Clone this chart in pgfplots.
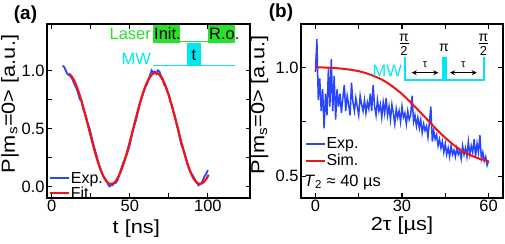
\documentclass[border=0pt]{standalone}
\usepackage{fontspec}
\setmainfont{Liberation Sans}
\newfontfamily\labfont[FakeStretch=1.15]{Liberation Sans}
\usepackage{pgfplots}
\pgfplotsset{compat=1.18}
\usetikzlibrary{arrows.meta}
\definecolor{expblue}{RGB}{40,70,255}
\definecolor{simred}{RGB}{240,20,20}
\definecolor{lasergreen}{RGB}{40,225,40}
\definecolor{mwcyan}{RGB}{0,232,238}
\pgfplotsset{
  panel/.style={
    scale only axis, height=174bp, anchor=south west,
    axis line style={line width=1.6bp},
    every tick/.style={black, line width=1.1bp},
    tick align=inside, xtick pos=both, ytick pos=both,
    major tick length=4.5bp, minor tick length=4.5bp,
    /pgf/number format/assume math mode=true,
    ticklabel style={font=\fontsize{16.5}{18}\selectfont},
    xticklabel style={yshift=1.5bp},
    yticklabel style={xshift=1bp},
    label style={font=\labfont\fontsize{19}{21}\selectfont, inner sep=0pt},
    legend cell align=left,
    legend image code/.code={\draw[#1, line width=2bp] (0bp,0bp) -- (19bp,0bp);},
    legend style={draw=none, fill=none, inner sep=0pt, outer sep=0pt,
      font=\fontsize{16}{18}\selectfont, row sep=0bp,
      nodes={inner sep=0.5bp}},
  }
}
\begin{document}
\begin{tikzpicture}
\useasboundingbox (0,0) rectangle (505bp,244bp);
% ---------------- panel (a)
\begin{axis}[panel, at={(47bp,46bp)}, width=203bp,
  xmin=-3, xmax=127, ymin=-0.1, ymax=1.4,
  xtick={0,50,100}, minor x tick num=1,
  ytick={0,0.5,1.0}, minor y tick num=1,
  yticklabel style={/pgf/number format/.cd, fixed, fixed zerofill, precision=1},
  xlabel={t [ns]}, ylabel={P|m\textsubscript{s}=0> [a.u.]},
  xlabel style={at={(axis description cs:0.44,-0.175)}, anchor=center},
  ylabel style={at={(axis description cs:-0.182,0.54)}, anchor=center},
  legend style={at={(axis description cs:0.012,-0.012)}, anchor=south west, row sep=1bp},
]
\addplot[expblue, line width=1.8bp] coordinates {
(7,1.04)(8,1.03)(9,1.00)(10,0.97)(11,0.96)(12,0.95)(13,0.93)(14,0.90)(15,0.87)(16,0.84)
(17,0.80)(18,0.75)(19,0.74)(20,0.68)(21,0.64)(22,0.60)(23,0.55)(24,0.51)(25,0.46)(26,0.40)
(27,0.35)(28,0.30)(29,0.25)(30,0.20)(31,0.16)(32,0.12)(33,0.09)(34,0.07)(35,0.05)(36,0.02)
(37,0.00)(38,0.01)(39,0.01)(40,0.03)(41,0.03)(42,0.05)(43,0.09)(44,0.13)(45,0.17)(46,0.21)
(47,0.24)(48,0.27)(49,0.31)(50,0.36)(51,0.42)(52,0.48)(53,0.53)(54,0.57)(55,0.63)(56,0.69)
(57,0.74)(58,0.78)(59,0.82)(60,0.86)(61,0.88)(62,0.92)(63,0.96)(64,1.00)(65,0.98)(66,0.99)
(67,0.97)(68,1.00)(69,0.99)(70,0.95)(71,0.93)(72,0.88)(73,0.86)(74,0.82)(75,0.79)(76,0.73)
(77,0.70)(78,0.64)(79,0.60)(80,0.54)(81,0.49)(82,0.42)(83,0.36)(84,0.33)(85,0.29)(86,0.24)
(87,0.19)(88,0.15)(89,0.12)(90,0.10)(91,0.08)(92,0.05)(93,0.03)(94,0.01)(95,0.02)(96,0.03)
(97,0.06)(98,0.09)(99,0.11)(100,0.14)};
\addlegendentry{Exp.}
\addplot[simred, line width=2.2bp, smooth] coordinates {
(11,0.973)(13,0.945)(15,0.894)(17,0.825)(19,0.740)(21,0.643)(23,0.540)(25,0.434)(27,0.332)
(29,0.238)(31,0.156)(33,0.091)(35,0.045)(37,0.023)(39,0.023)(41,0.045)(43,0.091)(45,0.156)
(47,0.238)(49,0.332)(51,0.434)(53,0.540)(55,0.643)(57,0.740)(59,0.825)(61,0.894)(63,0.945)
(65,0.973)(67,0.979)(69,0.962)(71,0.922)(73,0.862)(75,0.784)(77,0.693)(79,0.592)(81,0.487)
(83,0.382)(85,0.284)(87,0.195)(89,0.121)(91,0.065)(93,0.032)(95,0.020)(97,0.032)(99,0.065)
(100.5,0.100)};
\addlegendentry{Fit}
\end{axis}
% ---------------- panel (b)
\begin{axis}[panel, at={(301bp,46bp)}, width=202bp,
  xmin=-5, xmax=65, ymin=0.4, ymax=1.2,
  xtick={0,30,60}, minor x tick num=1,
  ytick={0.5,1.0}, minor y tick num=1,
  yticklabel style={/pgf/number format/.cd, fixed, fixed zerofill, precision=1},
  xlabel={2τ [µs]}, ylabel={P|m\textsubscript{s}=0> [a.u.]},
  xlabel style={at={(axis description cs:0.5,-0.16)}, anchor=center},
  ylabel style={at={(axis description cs:-0.205,0.535)}, anchor=center},
  legend style={at={(axis description cs:0.02,0.175)}, anchor=south west, row sep=3bp},
]
\addplot[expblue, line width=1.5bp] coordinates {
(0.0,0.98)(0.5,1.13)(1.0,0.85)(1.5,0.95)(2.0,0.80)(2.5,0.90)(3.0,0.72)(3.5,0.88)(4.0,0.78)(4.5,1.00)
(5.0,0.82)(5.5,1.04)(6.0,0.80)(6.5,0.96)(7.0,0.76)(7.5,0.90)(8.0,0.82)(8.5,0.88)(9.0,0.79)(9.5,0.86)
(10.0,0.92)(10.5,0.80)(11.0,0.87)(11.5,0.83)(12.0,0.78)(12.5,0.93)(13.0,0.84)(13.5,0.80)(14.0,0.86)(14.5,0.82)
(15.0,0.78)(15.5,0.87)(16.0,0.83)(16.5,0.80)(17.0,0.85)(17.5,0.79)(18.0,0.84)(18.5,0.81)(19.0,0.88)(19.5,0.80)
(20.0,0.92)(20.5,0.82)(21.0,0.78)(21.5,0.85)(22.0,0.80)(22.5,0.83)(23.0,0.77)(23.5,0.84)(24.0,0.79)(24.5,0.86)
(25.0,0.78)(25.5,0.82)(26.0,0.76)(26.5,0.83)(27.0,0.79)(27.5,0.74)(28.0,0.81)(28.5,0.77)(29.0,0.80)(29.5,0.75)
(30.0,0.82)(30.5,0.77)(31.0,0.79)(31.5,0.74)(32.0,0.80)(32.5,0.76)(33.0,0.78)(33.5,0.87)(34.0,0.75)(34.5,0.78)
(35.0,0.73)(35.5,0.77)(36.0,0.72)(36.5,0.76)(37.0,0.70)(37.5,0.74)(38.0,0.71)(38.5,0.73)(39.0,0.68)(39.5,0.75)
(40.0,0.82)(40.5,0.66)(41.0,0.71)(41.5,0.67)(42.0,0.69)(42.5,0.64)(43.0,0.67)(43.5,0.63)(44.0,0.66)(44.5,0.61)
(45.0,0.65)(45.5,0.60)(46.0,0.63)(46.5,0.59)(47.0,0.64)(47.5,0.60)(48.0,0.62)(48.5,0.59)(49.0,0.63)(49.5,0.60)
(50.0,0.62)(50.5,0.58)(51.0,0.64)(51.5,0.60)(52.0,0.63)(52.5,0.59)(53.0,0.66)(53.5,0.60)(54.0,0.64)(54.5,0.61)
(55.0,0.67)(55.5,0.59)(56.0,0.65)(56.5,0.61)(57.0,0.69)(57.5,0.58)(58.0,0.61)(58.5,0.57)(59.0,0.59)(59.5,0.55)
(60.0,0.57)};
\addlegendentry{Exp.}
\addplot[simred, line width=2bp, smooth] coordinates {
(0,1.000)(3,1.000)(6,0.998)(9,0.995)(12,0.990)(15,0.983)(18,0.972)(21,0.957)(24,0.937)(27,0.910)
(30,0.878)(33,0.840)(36,0.799)(39,0.757)(42,0.715)(45,0.677)(48,0.643)(51,0.615)(54,0.595)(57,0.580)(60,0.570)};
\addlegendentry{Sim.}
\end{axis}
% ---------------- panel letters
\node[font=\bfseries\fontsize{19}{21}\selectfont] at (25.5bp,229bp) {(a)};
\node[font=\bfseries\fontsize{19}{21}\selectfont] at (281bp,231bp) {(b)};
% ---------------- inset (a)
\fill[lasergreen] (153bp,201.3bp) rectangle (180bp,219bp);
\fill[lasergreen] (208.3bp,201.3bp) rectangle (235bp,219bp);
\draw[lasergreen, line width=1.4bp] (180bp,202.2bp) -- (208.3bp,202.2bp);
\node[anchor=east, inner sep=0, text=lasergreen, font=\fontsize{16.5}{18}\selectfont] at (151bp,210bp) {Laser};
\node[anchor=west, inner sep=0, font=\fontsize{16.5}{18}\selectfont] at (154bp,210bp) {Init.};
\node[anchor=west, inner sep=0, font=\fontsize{16.5}{18}\selectfont] at (209bp,210bp) {R.o.};
\fill[mwcyan] (187.3bp,177.5bp) rectangle (200.7bp,200.7bp);
\draw[mwcyan, line width=1.6bp] (153.3bp,178.3bp) -- (235bp,178.3bp);
\node[anchor=east, inner sep=0, text=mwcyan, font=\fontsize{16.5}{18}\selectfont] at (151bp,185.5bp) {MW};
\node[inner sep=0, font=\fontsize{16.5}{18}\selectfont] at (194bp,189bp) {t};
% ---------------- inset (b)
\draw[mwcyan, line width=2bp] (404.5bp,187bp) -- (404.5bp,164bp) -- (483.8bp,164bp) -- (483.8bp,187bp);
\fill[mwcyan] (441.7bp,163bp) rectangle (446.7bp,187bp);
\node[anchor=east, inner sep=0, text=mwcyan, font=\fontsize{16.5}{18}\selectfont] at (402bp,173.5bp) {MW};
\draw[{Stealth[length=5bp,width=5bp]}-{Stealth[length=5bp,width=5bp]}, line width=1.1bp] (411.7bp,171.3bp) -- (438.3bp,171.3bp);
\draw[{Stealth[length=5bp,width=5bp]}-{Stealth[length=5bp,width=5bp]}, line width=1.1bp] (450bp,171.3bp) -- (476.7bp,171.3bp);
\node[inner sep=0, font=\fontsize{11}{12}\selectfont] at (425bp,179.5bp) {τ};
\node[inner sep=0, font=\fontsize{11}{12}\selectfont] at (463.3bp,179.5bp) {τ};
\node[inner sep=0, font=\fontsize{14}{15}\selectfont] at (404bp,206bp) {π};
\draw[line width=1bp] (399.5bp,200.5bp) -- (408.5bp,200.5bp);
\node[inner sep=0, font=\fontsize{13}{14}\selectfont] at (404bp,193.3bp) {2};
\node[inner sep=0, font=\fontsize{14}{15}\selectfont] at (444bp,196.5bp) {π};
\node[inner sep=0, font=\fontsize{14}{15}\selectfont] at (483.5bp,206bp) {π};
\draw[line width=1bp] (479bp,200.5bp) -- (488bp,200.5bp);
\node[inner sep=0, font=\fontsize{13}{14}\selectfont] at (483.5bp,193.3bp) {2};
% T2 annotation
\node[anchor=west, inner sep=0, font=\fontsize{16.5}{18}\selectfont] at (304bp,62bp) {\textit{T}\textsubscript{2} ≈ 40 µs};
\end{tikzpicture}
\end{document}
